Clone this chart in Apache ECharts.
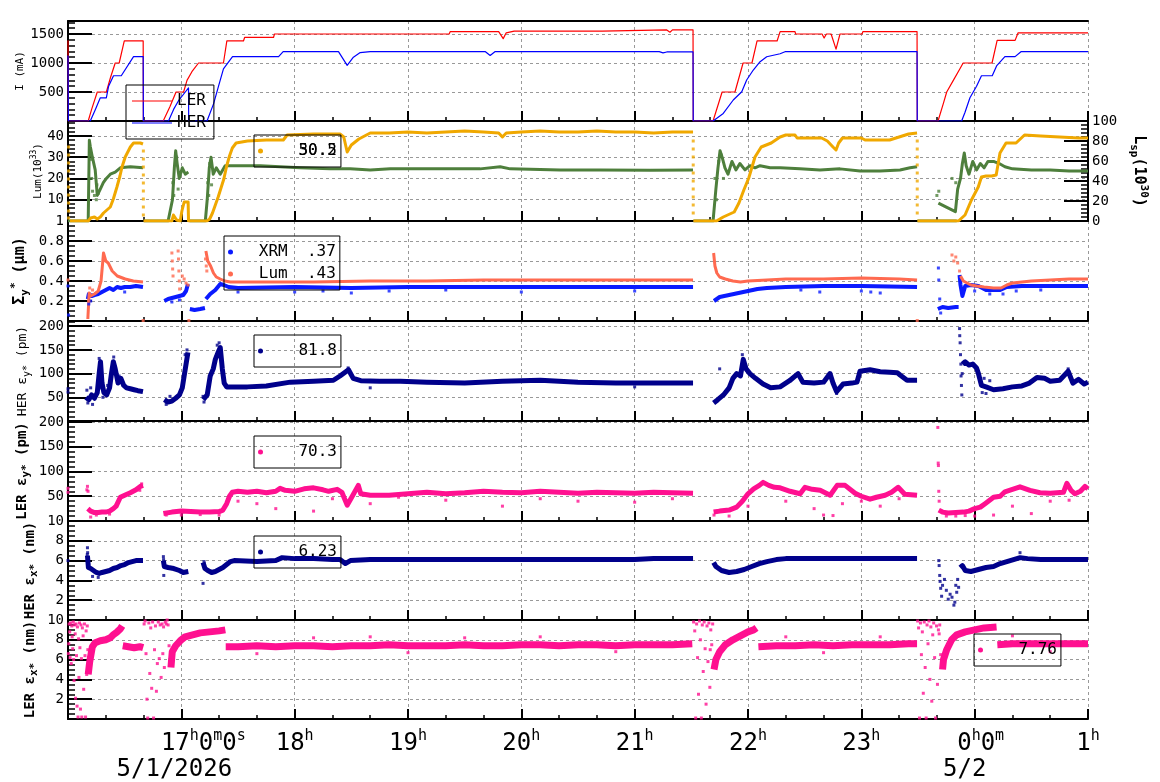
<!DOCTYPE html>
<html>
<head>
<meta charset="utf-8">
<title>beam status 5/1</title>
<script src="https://cdn.jsdelivr.net/npm/echarts@6.0.0/dist/echarts.min.js"></script>
<style>
  html, body { margin: 0; padding: 0; background: #fff; }
  #main { width: 1160px; height: 782px; }
</style>
</head>
<body>
<div id="main"></div>
<script>
// time = minutes after 16:00 (5/1), up to 01:00 (5/2)
var hourTicks = [0, 60, 120, 180, 240, 300, 360, 420, 480, 540];
var hourText = ['', '17h0m0s', '18h', '19h', '20h', '21h', '22h', '23h', '0h0m', '1h'];
var dateText = ['', '5/1/2026', '', '', '', '', '', '', '5/2', ''];

// --- I (mA)
var lerCurrent = [[0,1390],[0.2,0],[10.7,0],[12.5,200],[15.5,500],[20.3,500],[22.5,750],[25,1000],[27.1,1000],[29.8,1380],[39.8,1380],[39.9,0],[50.4,0],[54,250],[57.2,500],[61.2,500],[63,700],[65.6,850],[69.1,1000],[82.3,1000],[84.1,1380],[92.9,1380],[93.5,1440],[108.8,1440],[109.3,1500],[201.8,1500],[202.3,1540],[228,1540],[230.4,1420],[232,1520],[236.2,1550],[282.8,1550],[283.3,1570],[317,1570],[318.7,1530],[320,1570],[330.9,1570],[331,0],[341.5,0],[346.3,500],[353.1,500],[357.4,1000],[362.1,1000],[364.8,1380],[375.4,1380],[377,1540],[384.9,1540],[385.2,1500],[399.2,1500],[400.3,1430],[401.5,1500],[404,1500],[406.6,1240],[408.7,1500],[420.4,1500],[420.8,1540],[449.5,1540],[449.6,0],[460.6,0],[463.4,300],[465.2,500],[468.7,700],[472.2,900],[473.9,1000],[489.2,1000],[491.9,1390],[501.4,1390],[503,1520],[540,1520]];
var herCurrent = [[0,1130],[0.2,0],[11.8,0],[14.5,200],[17.1,400],[20.3,400],[21.5,600],[24.1,780],[28.2,780],[34.7,1110],[39.8,1110],[39.9,0],[53.2,0],[55.9,200],[58.5,350],[62.1,500],[63.8,570],[63.9,0],[73.6,0],[77.1,300],[79.7,600],[82.3,900],[87.1,1110],[111.5,1110],[113.9,1195],[143.2,1195],[147.8,960],[151.1,1100],[154.7,1180],[160,1195],[221,1195],[223.5,1130],[226,1195],[313,1195],[315,1175],[317,1190],[330.9,1190],[331,0],[341.5,0],[346.9,130],[352.2,362],[356.7,505],[359.3,707],[362.8,879],[366.4,1022],[369.9,1108],[377,1160],[379.6,1195],[449.5,1195],[449.6,0],[473.1,0],[474.9,150],[477.5,400],[481,600],[483.6,780],[489.3,780],[491.6,950],[496,1110],[501.4,1110],[504.5,1195],[540,1195]];

// --- Lum (10^33), left axis
var lumValues = [[0,0],[10.7,0],[11.3,38],[11.8,35],[12.9,30],[14.4,24],[15.5,12],[17.1,15],[18.7,18],[20.3,20],[22.4,22],[25,23],[27.7,25],[33,25.5],[39.8,25],[40,null],[40.1,0],[53,0],[55.3,10],[56.3,25],[57,33],[57.8,27],[58.9,20],[60.5,25],[62.1,22],[63.7,23],[64,null],[64.3,0],[72.7,0],[73.7,10],[74.8,25],[75.7,30],[76.9,22],[78.5,25],[80.6,22],[83.2,26],[88.5,26],[101.8,26],[112.3,25.5],[122.9,25],[138.8,24.5],[149.4,24.5],[160,24],[170.6,24.5],[186.5,24.5],[202.4,24.5],[218.2,24.5],[228.8,25.5],[234.1,24.5],[260.5,24],[281.7,24],[308.2,23.8],[330.9,24],[331,null],[331.1,0],[341.5,0],[342,5],[343,15],[344.1,25],[345.2,33],[346.3,30],[347.8,25],[349.4,22],[351.5,28],[353.6,24],[355.7,27],[358.4,24],[361,26],[363.7,25],[366.4,26],[371.7,25],[377,25],[387.5,24.5],[398.1,24],[408.7,24.5],[419.3,23.5],[429.9,23.5],[440.5,24],[445.8,25],[449.5,25.5],[449.6,null],[449.7,0],[470.5,0],[470.6,null],[460.8,8.4],[465,6.5],[469.8,4.4],[471,15],[472.5,20],[473.5,27],[474.5,32],[475.5,26],[477,22],[479,28],[481,24],[483,27],[485,25],[487,28],[490,28],[493,27],[496,25.5],[500,24.5],[510,24],[520,24],[530,23.5],[540,23.5]];
var lumDots = [[11.5,33],[12,29],[12.5,20],[13,14],[14,12],[15,10],[15.3,17],[16,13],[55.5,18],[56,12],[57.5,30],[58.3,15],[74,18],[74.5,12],[75,27],[76,17],[342.5,20],[343.3,10],[344.5,28],[345.8,31],[347,20],[460,12],[461,14],[468,20],[470,18]];
// --- Lsp (10^30), right axis
var lspValues = [[1,0],[10.7,0],[12,3],[13,1],[14,4],[15.5,2],[17.1,4],[18.8,8],[22.4,14],[24,22],[25.9,34],[27.5,45],[28.6,54],[30.3,64],[33,74],[34.7,78],[38.3,78],[39.7,77],[39.8,null],[40,0],[55,0],[55.8,6],[56.8,8],[57.5,1],[59.4,0],[60.3,10],[61.5,19],[63.6,19],[63.8,0],[73.5,0],[75,2],[76.5,8],[78,16],[79.5,24],[81,33],[82.5,42],[84,55],[85.5,65],[87,73],[89,78],[95,80],[105,81],[114,81],[116,86],[130,87],[144,87],[146,84],[147.8,69],[150,76],[154,82],[160,88],[170,88],[180,89],[190,88],[200,89],[210,90],[220,89],[228,88],[230,84],[232,88],[240,89],[250,90],[260,89],[270,89],[280,90],[290,89],[300,89],[310,88],[320,89],[330.9,89],[331,null],[331.1,0],[343.3,0],[346.9,4],[352.7,9],[355.2,18],[357.8,31],[360.4,43],[363.7,64],[367,74],[372.3,78],[377,84],[380,86],[384.9,86],[386,83],[399,83],[402,80],[405,74],[406.6,71],[408,78],[410,83],[420,83],[422,81],[435,81],[440,84],[445,87],[449.5,88],[449.6,null],[449.7,0],[471.4,0],[474.9,6],[478.3,21],[481.9,34],[483.6,44],[486,45],[489,45],[491.4,46],[493.4,68],[496.6,78],[501.9,78],[506.4,86],[515,85],[525,84],[535,83],[540,83]];
var lspDots = [[0.3,74],[0.3,66],[0.3,58],[0.3,50],[0.3,42],[0.3,34],[0.3,26],[0.3,18],[0.3,10],[0.3,3],[39.9,70],[39.9,62],[39.9,54],[39.9,46],[39.9,38],[39.9,30],[39.9,22],[39.9,14],[39.9,6],[331,80],[331,72],[331,64],[331,56],[331,48],[331,40],[331,32],[331,24],[331,16],[331,8],[449.6,80],[449.6,72],[449.6,64],[449.6,56],[449.6,48],[449.6,40],[449.6,32],[449.6,24],[449.6,16],[449.6,8]];

// --- Sigma_y* (um)
var xrmSigma = [[10.5,0.22],[11,0.27],[12.5,0.25],[14,0.26],[16,0.27],[18,0.29],[20,0.31],[22,0.33],[24,0.31],[26,0.34],[28,0.33],[30,0.34],[33,0.34],[36,0.35],[39.7,0.34],[40,null],[51,0.2],[53,0.22],[55,0.23],[57,0.24],[59,0.25],[61,0.26],[62.5,0.3],[63.5,0.37],[63.7,null],[64.5,0.12],[67,0.11],[70,0.12],[72.5,0.13],[72.7,null],[73,0.22],[75.3,0.27],[78,0.31],[80.6,0.37],[82.5,0.36],[85,0.34],[90,0.33],[120,0.34],[150,0.33],[180,0.34],[210,0.34],[240,0.34],[270,0.34],[300,0.34],[330.9,0.34],[331,null],[342,0.2],[345,0.24],[350,0.26],[355,0.28],[360,0.3],[365,0.32],[370,0.33],[380,0.34],[400,0.35],[420,0.35],[449.5,0.34],[449.6,null],[460.5,0.12],[463,0.14],[466,0.13],[470,0.14],[471.5,0.14],[471.8,null],[472,0.46],[472.5,0.36],[473.5,0.25],[475,0.35],[478,0.36],[482,0.35],[486,0.31],[490,0.31],[493.5,0.31],[497,0.34],[505,0.35],[520,0.35],[540,0.35]];
var xrmDots = [[0,0.35],[0.3,0.06],[11,0.17],[12,0.2],[30,0.29],[55,0.19],[59,0.21],[90,0.29],[120,0.29],[135,0.3],[150,0.28],[170,0.3],[200,0.31],[240,0.29],[300,0.3],[388,0.31],[398,0.29],[420,0.3],[425,0.29],[430,0.28],[460.8,0.53],[461,0.41],[461.5,0.22],[462,0.08],[480,0.3],[488,0.27],[495,0.27],[502,0.3],[515,0.31]];
var lumSigma = [[10.5,0.02],[11.2,0.28],[12,0.25],[14,0.27],[16,0.3],[17.5,0.4],[18.8,0.68],[20,0.6],[21.3,0.58],[23.4,0.5],[26.1,0.45],[30.3,0.42],[34.6,0.4],[39.7,0.39],[40,null],[73,0.7],[74,0.6],[75.5,0.55],[77,0.48],[78.5,0.44],[80.6,0.42],[83,0.4],[86,0.39],[100,0.39],[130,0.39],[160,0.4],[190,0.4],[220,0.41],[250,0.41],[280,0.41],[310,0.41],[330.9,0.41],[331,null],[341.8,0.68],[342.5,0.55],[343.5,0.48],[345,0.44],[348,0.42],[352,0.4],[356,0.39],[360,0.4],[370,0.41],[380,0.42],[400,0.42],[420,0.43],[440,0.42],[449.5,0.41],[449.6,null],[472.5,0.45],[474,0.4],[476,0.38],[478,0.36],[481,0.35],[485,0.34],[490,0.33],[494,0.33],[497,0.36],[500,0.38],[505,0.39],[510,0.4],[520,0.41],[530,0.42],[540,0.42]];
var lumSigmaDots = [[0,0.41],[11,0.2],[11.5,0.33],[13,0.31],[19.2,0.62],[55,0.68],[55.2,0.6],[55.4,0.52],[55.6,0.45],[58.3,0.7],[58.5,0.62],[58.7,0.5],[58.9,0.4],[59.1,0.32],[60.5,0.45],[61.5,0.42],[62.5,0.38],[63.5,0.36],[72.8,0.62],[73.2,0.55],[73.5,0.5],[39.8,0.005],[64,0.005],[449.6,0.005],[468,0.66],[469,0.6],[470,0.64],[471,0.58],[472,0.5]];

// --- HER eps_y* (pm)
var herEy = [[9.5,50],[11,45],[12.5,55],[14,48],[15.5,60],[16.5,100],[17.2,125],[18,80],[19,60],[20.5,55],[22,70],[23,100],[24,125],[25,110],[26.5,80],[28,90],[29.5,75],[31,70],[33,68],[35,66],[37,64],[39.7,62],[40,null],[51,45],[53,40],[55,42],[57,48],[59,55],[60.5,70],[61.5,95],[62.5,120],[63.5,145],[63.8,null],[71.6,45],[73.7,55],[75.3,95],[76.9,110],[78,130],[79.5,145],[80.6,155],[81.7,110],[82.7,80],[84,72],[95,72],[105,74],[117.7,82],[130,84],[140.5,86],[144,95],[148.5,108],[151,90],[155,85],[165,84],[176,84],[190,82],[210,80],[230,84],[250,86],[270,82],[290,80],[310,80],[330.9,80],[331,null],[341.8,38],[344,45],[347,55],[350,70],[352,90],[354,100],[356,95],[357.5,130],[359,110],[361,100],[364,90],[368,78],[372,70],[377,72],[382,85],[386.5,100],[389,82],[395,80],[400,82],[403.4,100],[405,80],[406.9,62],[410.3,78],[415,80],[417.7,82],[419.3,105],[424.6,108],[430,104],[435,103],[439,102],[440.5,97],[444.2,86],[449.5,86],[449.6,null],[473.5,120],[475,125],[477,118],[479,120],[481,112],[482,100],[483.6,75],[486,72],[490,66],[495,68],[500,72],[505,74],[509,80],[513,92],[517,90],[520,84],[525,86],[529.5,105],[532,80],[535,88],[538,78],[540,82]];
var herEyDots = [[0,61],[0,68],[10,65],[10.5,38],[12,70],[13,35],[16.5,132],[16.8,115],[17,70],[18.5,50],[21,75],[24.2,135],[24.5,100],[27,95],[52,35],[54,52],[62,140],[63,150],[71.5,52],[72,40],[79,160],[80,165],[148.3,112],[160,70],[300,72],[345,110],[357,140],[406.9,58],[472,195],[472.1,180],[472.3,165],[472.5,140],[472.7,120],[472.8,95],[473,75],[473.2,55],[473.4,100],[484,60],[485,90],[486,58],[488,85],[529.5,110]];

// --- LER eps_y* (pm)
var lerEy = [[10.5,25],[12,20],[14,17],[16,17],[18,18],[20,18],[22,20],[24,25],[25.5,30],[26.7,40],[27.7,48],[30,52],[33,57],[36,63],[38.3,70],[39.7,72],[40,null],[50.5,15],[55,18],[60,20],[65,19],[70,18],[75,18],[80,19],[82,22],[84,35],[85.5,50],[87,58],[90,60],[95,58],[100,60],[105,57],[110,60],[112.3,66],[115,62],[120,60],[125,65],[130,67],[135,63],[138,60],[142.5,64],[145,58],[147.8,32],[150.5,50],[153.7,72],[155,55],[160,52],[170,52],[180,55],[190,58],[200,55],[210,57],[220,60],[230,58],[240,57],[250,60],[260,58],[270,56],[280,58],[290,57],[300,56],[310,58],[320,57],[330.9,56],[331,null],[341.8,18],[345,20],[350,22],[354,28],[357,40],[360,55],[363,65],[366,72],[368,78],[371,72],[374,68],[377,67],[382.3,60],[387.6,55],[390.2,68],[394,64],[398.2,62],[403.5,52],[407.2,72],[411.4,72],[416.7,56],[420,50],[424.6,44],[428,48],[432.6,52],[436,58],[439.5,68],[443,54],[449.5,52],[449.6,null],[461,22],[463,18],[466,16],[470,17],[474,18],[477,20],[480,25],[483,28],[485.5,35],[490,48],[493.5,50],[496,59],[500,64],[504,69],[509.3,62],[514.6,57],[520,56],[527,58],[528.8,76],[531,62],[533.1,55],[536,60],[538.4,70],[540,65]];
var lerEyDots = [[0,66],[0,58],[10,63],[10.3,70],[10.6,60],[12,8],[15,12],[22,14],[38,62],[39,75],[52,12],[60,12],[70,13],[80,12],[90,40],[100,35],[110,25],[130,20],[140,45],[160,35],[175,48],[200,42],[230,30],[250,45],[270,40],[300,38],[320,45],[342,12],[350,10],[360,30],[380,40],[395,25],[400,12],[405,11],[410,35],[420,40],[430,30],[440,45],[460.5,189],[460.7,117],[460.8,112],[461,60],[461.2,40],[465,10],[470,10],[475,11],[480,10],[490,12],[500,30],[510,15],[520,40],[530,42]];

// --- HER eps_x* (nm)
var herEx = [[10.3,6.5],[10.8,5.3],[12,5.2],[13.5,5.0],[15,4.8],[16.5,4.7],[18,4.8],[20,4.9],[22,5.0],[24,5.2],[26,5.3],[28,5.5],[30,5.6],[32,5.8],[34,5.9],[36,6.0],[39.7,6.0],[40,null],[50.5,6.0],[51,5.4],[53,5.3],[56,5.2],[59,5.0],[61,4.8],[63.7,4.9],[64,null],[71.5,5.8],[72.5,5.2],[74,5.0],[76,4.8],[78,4.9],[80,5.1],[82,5.3],[84,5.6],[86,5.9],[88,6.0],[100,5.9],[110,6.0],[113.4,6.3],[120,6.2],[130,6.2],[140,6.1],[144,6.1],[146.8,5.7],[149.5,6.0],[160,6.1],[176,6.1],[200,6.1],[220,6.1],[240,6.1],[260,6.1],[280,6.1],[300,6.1],[310,6.2],[320,6.2],[330.9,6.2],[331,null],[341.8,5.8],[343,5.4],[346,5.0],[350,4.8],[354,4.9],[358,5.1],[362,5.4],[366,5.7],[370,5.9],[375,6.1],[380,6.2],[400,6.2],[420,6.2],[440,6.2],[449.5,6.2],[449.6,null],[472.3,5.3],[473.5,5.5],[475,5.0],[478,4.9],[482,5.1],[486,5.3],[490,5.4],[493.5,5.7],[498.8,6.0],[504.1,6.3],[508,6.2],[515,6.1],[540,6.1]];
var herExDots = [[0,6.0],[10.3,7.3],[10.4,6.8],[10.2,6.6],[13,4.4],[16,4.3],[50.5,6.4],[50.6,6.1],[50.7,4.5],[71.5,3.7],[72,5.9],[461,6.0],[461.2,5.5],[461.5,4.5],[461.7,3.9],[462,3.2],[462.5,2.4],[463,3.5],[464,4.1],[465,3.0],[466,2.1],[467,2.6],[468,2.3],[469,1.5],[469.5,1.8],[470,3.5],[470.5,2.8],[471,4.1],[471.5,3.3],[504,6.8]];

// --- LER eps_x* (nm)
var lerEx = [[10.7,4.5],[11.5,5.8],[12.9,7.3],[14.4,7.7],[17.1,7.9],[20,8.0],[22.4,8.2],[24,8.5],[26,8.8],[27.7,9.1],[28.7,9.4],[28.9,null],[29,7.4],[32,7.3],[35,7.2],[38,7.3],[39.8,7.2],[40,null],[54.5,5.2],[55.2,6.8],[57,7.4],[59.4,7.9],[62,8.3],[66,8.5],[70,8.7],[75,8.8],[80,8.9],[83.3,9.0],[83.4,null],[83.5,7.3],[90,7.3],[100,7.4],[110,7.3],[120,7.4],[130,7.4],[140,7.3],[150,7.4],[160,7.4],[170,7.5],[180,7.4],[190,7.4],[200,7.4],[210,7.5],[220,7.4],[230,7.4],[240,7.5],[250,7.5],[260,7.4],[270,7.5],[280,7.5],[290,7.4],[300,7.5],[310,7.5],[320,7.5],[330.5,7.6],[331,null],[342,5.0],[343,6.0],[345,6.8],[348,7.5],[352,8.0],[356,8.4],[360,8.8],[363,9.0],[364.5,9.2],[365,null],[365.5,7.3],[375,7.4],[385,7.4],[395,7.5],[405,7.4],[415,7.5],[425,7.5],[435,7.5],[445,7.6],[449.5,7.6],[449.6,null],[463,5.0],[463.5,6.0],[465.2,7.0],[467.8,8.0],[470.5,8.5],[475,8.8],[480,9.0],[485,9.2],[491.6,9.3],[491.8,null],[492,7.5],[500,7.6],[510,7.6],[520,7.6],[530,7.6],[540,7.6]];
var lerExDots = [[0.2,6.6],[0.4,7.6],[0.6,9.6],[0.9,8.8],[1.1,6.2],[1.4,9.7],[1.7,5.6],[2,9.4],[2.2,8.3],[2.5,7.1],[2.8,9.8],[3,6.0],[3.2,3.9],[3.5,9.5],[3.8,8.6],[4,2.1],[4.3,9.6],[4.5,6.4],[4.8,1.3],[5,9.3],[5.3,0.2],[5.6,8.1],[5.8,4.2],[6.1,9.7],[6.3,7.2],[6.6,1.0],[6.9,9.5],[7.1,6.1],[7.3,0.2],[7.6,9.2],[8,8.4],[8.3,3.0],[8.7,9.6],[9,6.4],[9.3,0.2],[9.6,8.9],[9.9,4.5],[10.2,9.4],[10.5,7.0],
  [40.3,9.6],[40.8,9.9],[41.3,6.6],[41.8,2.0],[42.2,0.1],[42.8,9.7],[43.3,4.6],[43.8,9.2],[44.3,3.1],[44.8,9.8],[45.3,0.1],[45.8,7.0],[46.3,9.4],[46.8,2.8],[47.3,5.6],[47.8,9.8],[48.3,6.1],[48.8,9.5],[49.3,4.2],[49.8,9.6],[50.2,6.6],[50.6,9.3],[51,5.2],[51.5,9.8],[52,9.6],[52.5,10],[53,9.5],[53.5,7.4],[54,6.0],
  [331.2,9.8],[331.8,8.9],[332.3,0.1],[332.8,9.6],[333.3,6.2],[333.8,2.5],[334.3,9.9],[334.8,8.0],[335.3,0.1],[335.8,9.5],[336.3,4.8],[336.8,9.8],[337.3,7.1],[337.8,1.5],[338.3,9.4],[338.8,5.8],[339.3,9.7],[339.8,3.2],[340.3,9.0],[340.8,7.5],[341.3,9.6],
  [449.8,9.9],[450.3,9.2],[450.8,0.1],[451.3,9.7],[451.8,6.5],[452.3,8.8],[452.8,2.6],[453.3,9.8],[453.8,5.2],[454.3,0.1],[454.8,9.5],[455.3,7.6],[455.8,9.9],[456.3,4.0],[456.8,9.3],[457.3,1.8],[457.8,8.5],[458.3,9.7],[458.8,6.2],[459.3,0.1],[459.8,9.4],[460.3,3.5],[460.8,9.0],[461.2,8.6],[461.5,9.5],[462,6.5],
  [100,6.6],[130,8.2],[160,8.3],[180,6.7],[210,8.2],[250,8.3],[290,6.8],[340,7.0],[380,8.3],[400,6.7],[430,8.3],[500,8.4],[520,6.8]];

// legend texts
var legendText = {
  LER: 'LER', HER: 'HER',
  Lsp: '   50.2', Lum33: '   30.5',
  XRM: '  XRM  .37', LumSig: '  Lum  .43',
  HERey: '   81.8', LERey: '   70.3', HERex: '   6.23', LERex: '   7.76'
};

var FONT = 'DejaVu Sans Mono';
var tops = [21, 121, 221, 321, 421, 521, 620];
var heights = [100, 100, 100, 100, 100, 99, 99];

var grids = tops.map(function (t, i) {
  return { left: 68, right: 72, top: t, height: heights[i], containLabel: false, outerBoundsMode: 'none' };
});

// x label: digits big, h/m/s as superscripts; date on second line
// (lines are centred one by one, so gap tokens shift them)
var padLeft = { 60: 44, 480: 12 };
var padDate = { 60: 14, 480: 20 };
function timeLabel(v) {
  var t = Math.round(v);
  var i = hourTicks.indexOf(t);
  if (i < 0 || !hourText[i]) return '';
  var s = hourText[i].replace(/(\d+)|([hms])/g, function (m, d, u) {
    return d ? '{n|' + d + '}' : '{u|' + u + '}';
  });
  if (padLeft[t]) s = '{g' + padLeft[t] + '| }' + s;
  if (dateText[i]) s += '\n{d|' + dateText[i] + '}{g' + padDate[t] + '| }';
  return s;
}

function xAx(i) {
  var ax = {
    type: 'value', gridIndex: i, min: 0, max: 540, interval: 60,
    axisLine: { show: true, onZero: false, lineStyle: { color: '#000', width: 2 } },
    axisTick: { show: true, inside: true, length: 10, lineStyle: { color: '#000', width: 2 } },
    minorTick: { show: true, splitNumber: 3, length: 4, lineStyle: { color: '#000', width: 1.5 } },
    splitLine: { show: true, lineStyle: { color: '#999', type: [3, 3], width: 1 } },
    axisLabel: { show: false }
  };
  if (i === 6) {
    ax.axisLabel = {
      show: true, margin: 10, color: '#000', fontFamily: FONT, fontSize: 24,
      formatter: timeLabel,
      rich: {
        n: { fontFamily: FONT, fontSize: 24, lineHeight: 30, color: '#000' },
        u: { fontFamily: FONT, fontSize: 15, verticalAlign: 'top', color: '#000' },
        d: { fontFamily: FONT, fontSize: 24, lineHeight: 22, color: '#000' },
        g44: { width: 44, fontSize: 24, lineHeight: 30 },
        g12: { width: 12, fontSize: 24, lineHeight: 30 },
        g14: { width: 14, fontSize: 24, lineHeight: 22 },
        g20: { width: 20, fontSize: 24, lineHeight: 22 }
      }
    };
  }
  return ax;
}

function yAx(grid, o) {
  return {
    type: 'value', gridIndex: grid, min: o.min, max: o.max, interval: o.interval,
    position: o.right ? 'right' : 'left',
    name: o.name, nameLocation: 'middle', nameGap: o.gap, nameRotate: o.right ? -90 : 90,
    nameMoveOverlap: false,
    nameTextStyle: {
      fontFamily: FONT, fontSize: o.fs, fontWeight: o.bold ? 'bold' : 'normal', color: '#000',
      rich: {
        t: { fontFamily: FONT, fontSize: o.fs, fontWeight: o.bold ? 'bold' : 'normal', lineHeight: o.fs + 6, color: '#000' },
        sup: { fontFamily: FONT, fontSize: Math.round(o.fs * 0.7), fontWeight: o.bold ? 'bold' : 'normal', verticalAlign: 'top', color: '#000' },
        sub: { fontFamily: FONT, fontSize: Math.round(o.fs * 0.75), fontWeight: o.bold ? 'bold' : 'normal', verticalAlign: 'bottom', color: '#000' }
      }
    },
    axisLine: { show: true, onZero: false, lineStyle: { color: '#000', width: 2 } },
    axisTick: { show: true, inside: true, length: 24, lineStyle: { color: '#000', width: 2 } },
    minorTick: { show: true, splitNumber: o.minor, length: 7, lineStyle: { color: '#000', width: 1.5 } },
    splitLine: { show: !o.right, lineStyle: { color: '#999', type: [3, 3], width: 1 } },
    axisLabel: {
      show: true, margin: 4, color: '#000', fontFamily: FONT, fontSize: 14,
      showMinLabel: !!o.right, showMaxLabel: o.showMax !== false,
      formatter: function (v) { return String(v); }
    }
  };
}

var xAxes = [0, 1, 2, 3, 4, 5, 6].map(xAx);
// top frame of the first panel
xAxes.push({
  type: 'value', gridIndex: 0, min: 0, max: 540, position: 'top',
  axisLine: { show: true, onZero: false, lineStyle: { color: '#000', width: 2 } },
  axisTick: { show: false }, axisLabel: { show: false }, splitLine: { show: false }
});

var yAxes = [
  yAx(0, { min: 0, max: 1724, interval: 500, minor: 5, name: '{t|I (mA)}', gap: 39, fs: 11, showMax: false }),
  yAx(1, { min: 0, max: 47, interval: 10, minor: 5, name: '{t|Lum(10}{sup|33}{t|)}', gap: 21, fs: 11, showMax: false }),
  yAx(1, { min: 0, max: 100, interval: 20, minor: 5, right: true, name: '{t|L}{sub|sp}{t|(10}{sup|30}{t|)}', gap: 40, fs: 15, bold: true }),
  yAx(2, { min: 0, max: 1, interval: 0.2, minor: 4, name: '{t|Σ}{sub|y}{sup|*}{t| (μm)}', gap: 37, fs: 15, bold: true }),
  yAx(3, { min: 0, max: 211, interval: 50, minor: 5, name: '{t|HER ε}{sub|y*}{t| (pm)}', gap: 36, fs: 13, showMax: false }),
  yAx(4, { min: 0, max: 202, interval: 50, minor: 5, name: '{t|LER ε}{sub|y*}{t| (pm)}', gap: 36, fs: 14, bold: true, showMax: false }),
  yAx(5, { min: 0, max: 10, interval: 2, minor: 4, name: '{t|HER ε}{sub|x*}{t| (nm)}', gap: 28, fs: 14, bold: true }),
  yAx(6, { min: 0, max: 10, interval: 2, minor: 4, name: '{t|LER ε}{sub|x*}{t| (nm)}', gap: 28, fs: 14, bold: true })
];

function lineS(name, data, x, y, color, width) {
  return {
    name: name, type: 'line', data: data, xAxisIndex: x, yAxisIndex: y,
    showSymbol: false, symbol: 'none', connectNulls: false, clip: true,
    lineStyle: { color: color, width: width, join: 'round', cap: 'butt' },
    itemStyle: { color: color }, emphasis: { disabled: true }, z: 3
  };
}
function dotS(name, data, x, y, color, size) {
  return {
    name: name, type: 'scatter', data: data, xAxisIndex: x, yAxisIndex: y,
    symbol: 'rect', symbolSize: size || 3, clip: true,
    itemStyle: { color: color }, emphasis: { disabled: true }, z: 3
  };
}

var RED = '#ff0000', BLUE = '#0000ff', GREEN = '#4e7f3c', ORANGE = '#f0a800',
    XBLUE = '#0a1aff', SALMON = '#ff6a50', NAVY = '#00008b', PINK = '#ff1090';

var series = [
  lineS('LER', lerCurrent, 0, 0, RED, 1.2),
  lineS('HER', herCurrent, 0, 0, BLUE, 1.2),
  lineS('Lum33', lumValues, 1, 1, GREEN, 3),
  dotS('lumDots', lumDots, 1, 1, GREEN, 3),
  lineS('Lsp', lspValues, 1, 2, ORANGE, 3),
  dotS('lspDots', lspDots, 1, 2, ORANGE, 3),
  lineS('XRM', xrmSigma, 2, 3, XBLUE, 4),
  dotS('xrmDots', xrmDots, 2, 3, XBLUE, 3),
  lineS('LumSig', lumSigma, 2, 3, SALMON, 3),
  dotS('lumSigDots', lumSigmaDots, 2, 3, SALMON, 3),
  lineS('HERey', herEy, 3, 4, NAVY, 5),
  dotS('herEyDots', herEyDots, 3, 4, NAVY, 3),
  lineS('LERey', lerEy, 4, 5, PINK, 5),
  dotS('lerEyDots', lerEyDots, 4, 5, PINK, 3),
  lineS('HERex', herEx, 5, 6, NAVY, 5),
  dotS('herExDots', herExDots, 5, 6, NAVY, 3),
  lineS('LERex', lerEx, 6, 7, PINK, 7),
  dotS('lerExDots', lerExDots, 6, 7, PINK, 3)
];

function legendBox(o) {
  return Object.assign({
    show: true, orient: 'vertical', selectedMode: false,
    icon: 'circle', itemWidth: 8, itemHeight: 5, itemGap: 6,
    padding: [8, 4, 8, 4],
    borderColor: '#000', borderWidth: 1, backgroundColor: 'transparent',
    textStyle: { fontFamily: FONT, fontSize: 16, color: '#000' },
    formatter: function (n) { return legendText[n]; },
    z: 10
  }, o);
}

var option = {
  animation: false,
  backgroundColor: '#fff',
  grid: grids,
  xAxis: xAxes,
  yAxis: yAxes,
  legend: [
    legendBox({ left: 126, top: 85, icon: 'rect', itemWidth: 40, itemHeight: 1, padding: [8, 8, 8, 6], data: ['LER', 'HER'] }),
    legendBox({ left: 254, top: 135, data: ['Lsp'] }),
    legendBox({ left: 254, top: 135, borderWidth: 0, data: [{ name: 'Lum33', itemStyle: { opacity: 0 } }] }),
    legendBox({ left: 224, top: 236, data: ['XRM', 'LumSig'] }),
    legendBox({ left: 254, top: 335, data: ['HERey'] }),
    legendBox({ left: 254, top: 436, data: ['LERey'] }),
    legendBox({ left: 254, top: 536, data: ['HERex'] }),
    legendBox({ left: 974, top: 634, data: ['LERex'] })
  ],
  series: series
};

var chart = echarts.init(document.getElementById('main'));
chart.setOption(option);
</script>
</body>
</html>
